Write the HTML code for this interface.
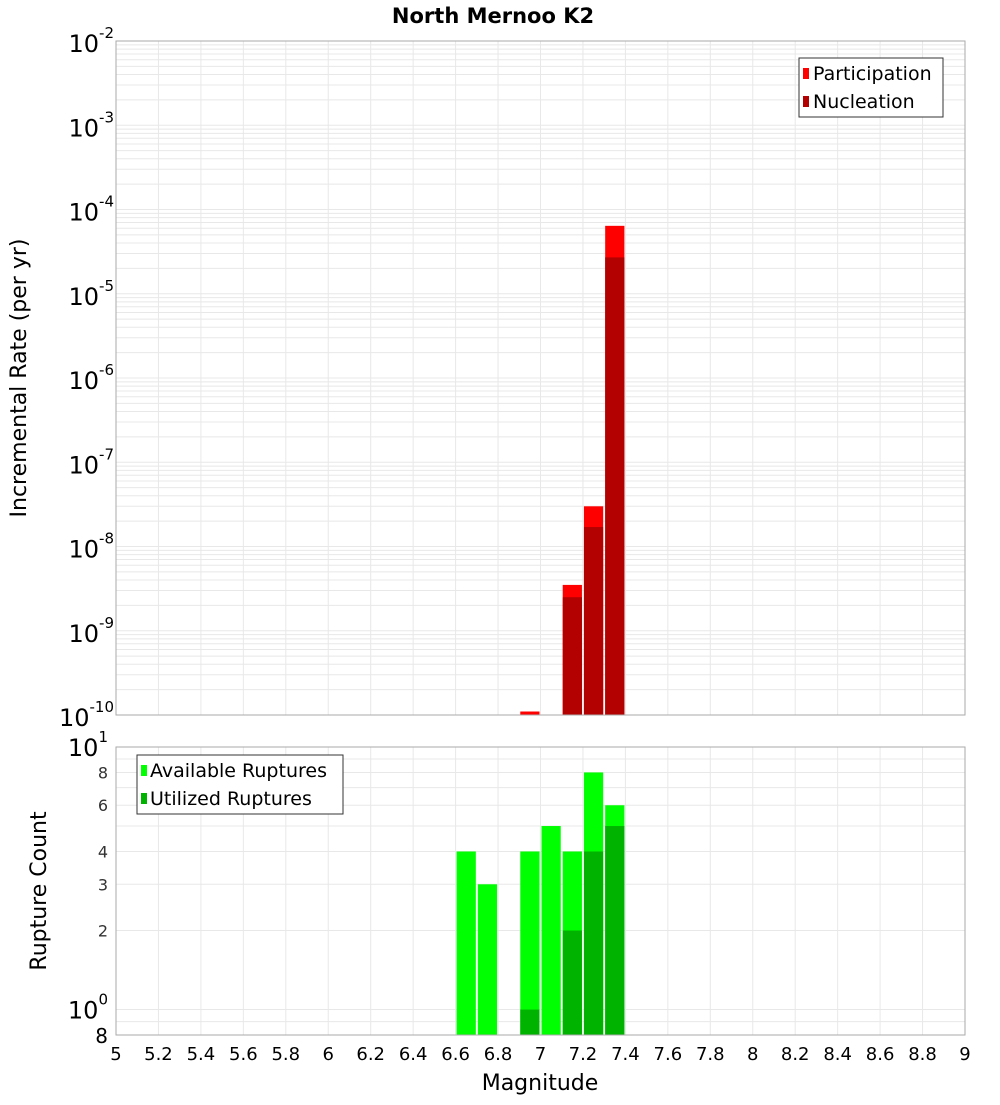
<!DOCTYPE html>
<html><head><meta charset="utf-8"><style>
body{margin:0;background:#fff;}
svg text{font-family:"DejaVu Sans","Liberation Sans",sans-serif;}
</style></head><body>
<svg id="c" width="1000" height="1100" xmlns="http://www.w3.org/2000/svg">
<text x="493" y="23" text-anchor="middle" font-size="21" font-weight="bold">North Mernoo K2</text>
<g id="gtop"></g>
<g id="gbot"></g>
<text x="540" y="1090" text-anchor="middle" font-size="22">Magnitude</text>
<text transform="translate(26,378) rotate(-90)" text-anchor="middle" font-size="22">Incremental Rate (per yr)</text>
<text transform="translate(46,891) rotate(-90)" text-anchor="middle" font-size="22">Rupture Count</text>
<g>
<rect x="799" y="58" width="144" height="59" fill="#fff" stroke="#333"/>
<rect x="803" y="68" width="6" height="11" fill="#ff0000"/>
<text x="813" y="80" font-size="19">Participation</text>
<rect x="803" y="96" width="6" height="11" fill="#b30000"/>
<text x="813" y="108" font-size="19">Nucleation</text>
</g>
<g>
<rect x="137" y="755" width="206" height="59" fill="#fff" stroke="#333"/>
<rect x="141" y="765" width="6" height="11" fill="#00ff00"/>
<text x="150" y="777" font-size="19">Available Ruptures</text>
<rect x="141" y="793" width="6" height="11" fill="#00b300"/>
<text x="150" y="805" font-size="19">Utilized Ruptures</text>
</g>
</svg>
<script>
const binCenters=[6.65,6.75,6.85,6.95,7.05,7.15,7.25,7.35];
const participation=[0,0,0,1.1e-10,0,3.5e-9,3.0e-8,6.4e-5];
const nucleation=[0,0,0,0,0,2.5e-9,1.7e-8,2.7e-5];
const available=[4,3,0,4,5,4,8,6];
const utilized=[0,0,0,1,0,2,4,5];
const xTicks=["5","5.2","5.4","5.6","5.8","6","6.2","6.4","6.6","6.8","7","7.2","7.4","7.6","7.8","8","8.2","8.4","8.6","8.8","9"];
const rateExps=[-10,-9,-8,-7,-6,-5,-4,-3,-2];
const countTicks=[2,3,4,6,8];

const NS="http://www.w3.org/2000/svg";
const X0=116,X1=965;
function xs(m){return X0+(m-5)/4*(X1-X0);}
const T0=41,T1=715;
function ysTop(v){return T1-(Math.log10(v)+10)/8*(T1-T0);}
const B0=747,B1=1035,BMIN=Math.log10(0.8),BMAX=1;
function ysBot(v){return B1-(Math.log10(v)-BMIN)/(BMAX-BMIN)*(B1-B0);}
function mk(parent,tag,attrs,text){const e=document.createElementNS(NS,tag);for(const k in attrs)e.setAttribute(k,attrs[k]);if(text!==undefined)e.textContent=text;parent.appendChild(e);return e;}
const gTop=document.getElementById('gtop'),gBot=document.getElementById('gbot');

function vgrid(g,y0,y1){for(let i=0;i<=20;i++){const x=xs(5+i*0.2);const l=mk(g,'line',{x1:x,x2:x,y1:y0,y2:y1,stroke:'#e8e8e8'});

}}
vgrid(gTop,T0,T1);vgrid(gBot,B0,B1);
for(let d=-10;d<-2;d++){for(let k=1;k<10;k++){const y=ysTop(k*Math.pow(10,d));const l=mk(gTop,'line',{x1:X0,x2:X1,y1:y,y2:y,stroke:'#e8e8e8'});

}}
[0.8,0.9,1,2,3,4,5,6,7,8,9,10].forEach(v=>{const y=ysBot(v);const l=mk(gBot,'line',{x1:X0,x2:X1,y1:y,y2:y,stroke:'#e8e8e8'});

});

binCenters.forEach((c,i)=>{const xa=xs(c-0.05)+1,xb=xs(c+0.05)-1;
if(participation[i]>0){const r=mk(gTop,'rect',{x:xa,y:ysTop(participation[i]),width:xb-xa,height:T1-ysTop(participation[i]),fill:'#ff0000'});

}
if(nucleation[i]>0){const r=mk(gTop,'rect',{x:xa,y:ysTop(nucleation[i]),width:xb-xa,height:T1-ysTop(nucleation[i]),fill:'#b30000'});

}
if(available[i]>0){const r=mk(gBot,'rect',{x:xa,y:ysBot(available[i]),width:xb-xa,height:B1-ysBot(available[i]),fill:'#00ff00'});

}
if(utilized[i]>0){const r=mk(gBot,'rect',{x:xa,y:ysBot(utilized[i]),width:xb-xa,height:B1-ysBot(utilized[i]),fill:'#00b300'});

}
});

mk(gTop,'rect',{x:X0,y:T0,width:X1-X0,height:T1-T0,fill:'none',stroke:'#aaa'});
mk(gBot,'rect',{x:X0,y:B0,width:X1-X0,height:B1-B0,fill:'none',stroke:'#aaa'});

rateExps.forEach(e=>{const y=ysTop(Math.pow(10,e));const t=mk(gTop,'text',{x:X0-2,y:y+11,'text-anchor':'end','font-size':24});


mk(t,'tspan',{},'10');mk(t,'tspan',{dy:-14,'font-size':15},String(e));});
countTicks.forEach(v=>{const t=mk(gBot,'text',{x:X0-8,y:ysBot(v)+6,'text-anchor':'end','font-size':16,fill:'#333'},String(v));

});
[[10,'1'],[1,'0']].forEach(([v,e])=>{const t=mk(gBot,'text',{x:X0-8,y:ysBot(v)+9,'text-anchor':'end','font-size':24});


mk(t,'tspan',{},'10');mk(t,'tspan',{dy:-14,'font-size':15},e);});
{const t=mk(gBot,'text',{x:X0-8,y:B1+8,'text-anchor':'end','font-size':20},'8');

}
xTicks.forEach(s=>{const t=mk(gBot,'text',{x:xs(parseFloat(s)),y:1060,'text-anchor':'middle','font-size':18},s);

});
</script>
</body></html>
